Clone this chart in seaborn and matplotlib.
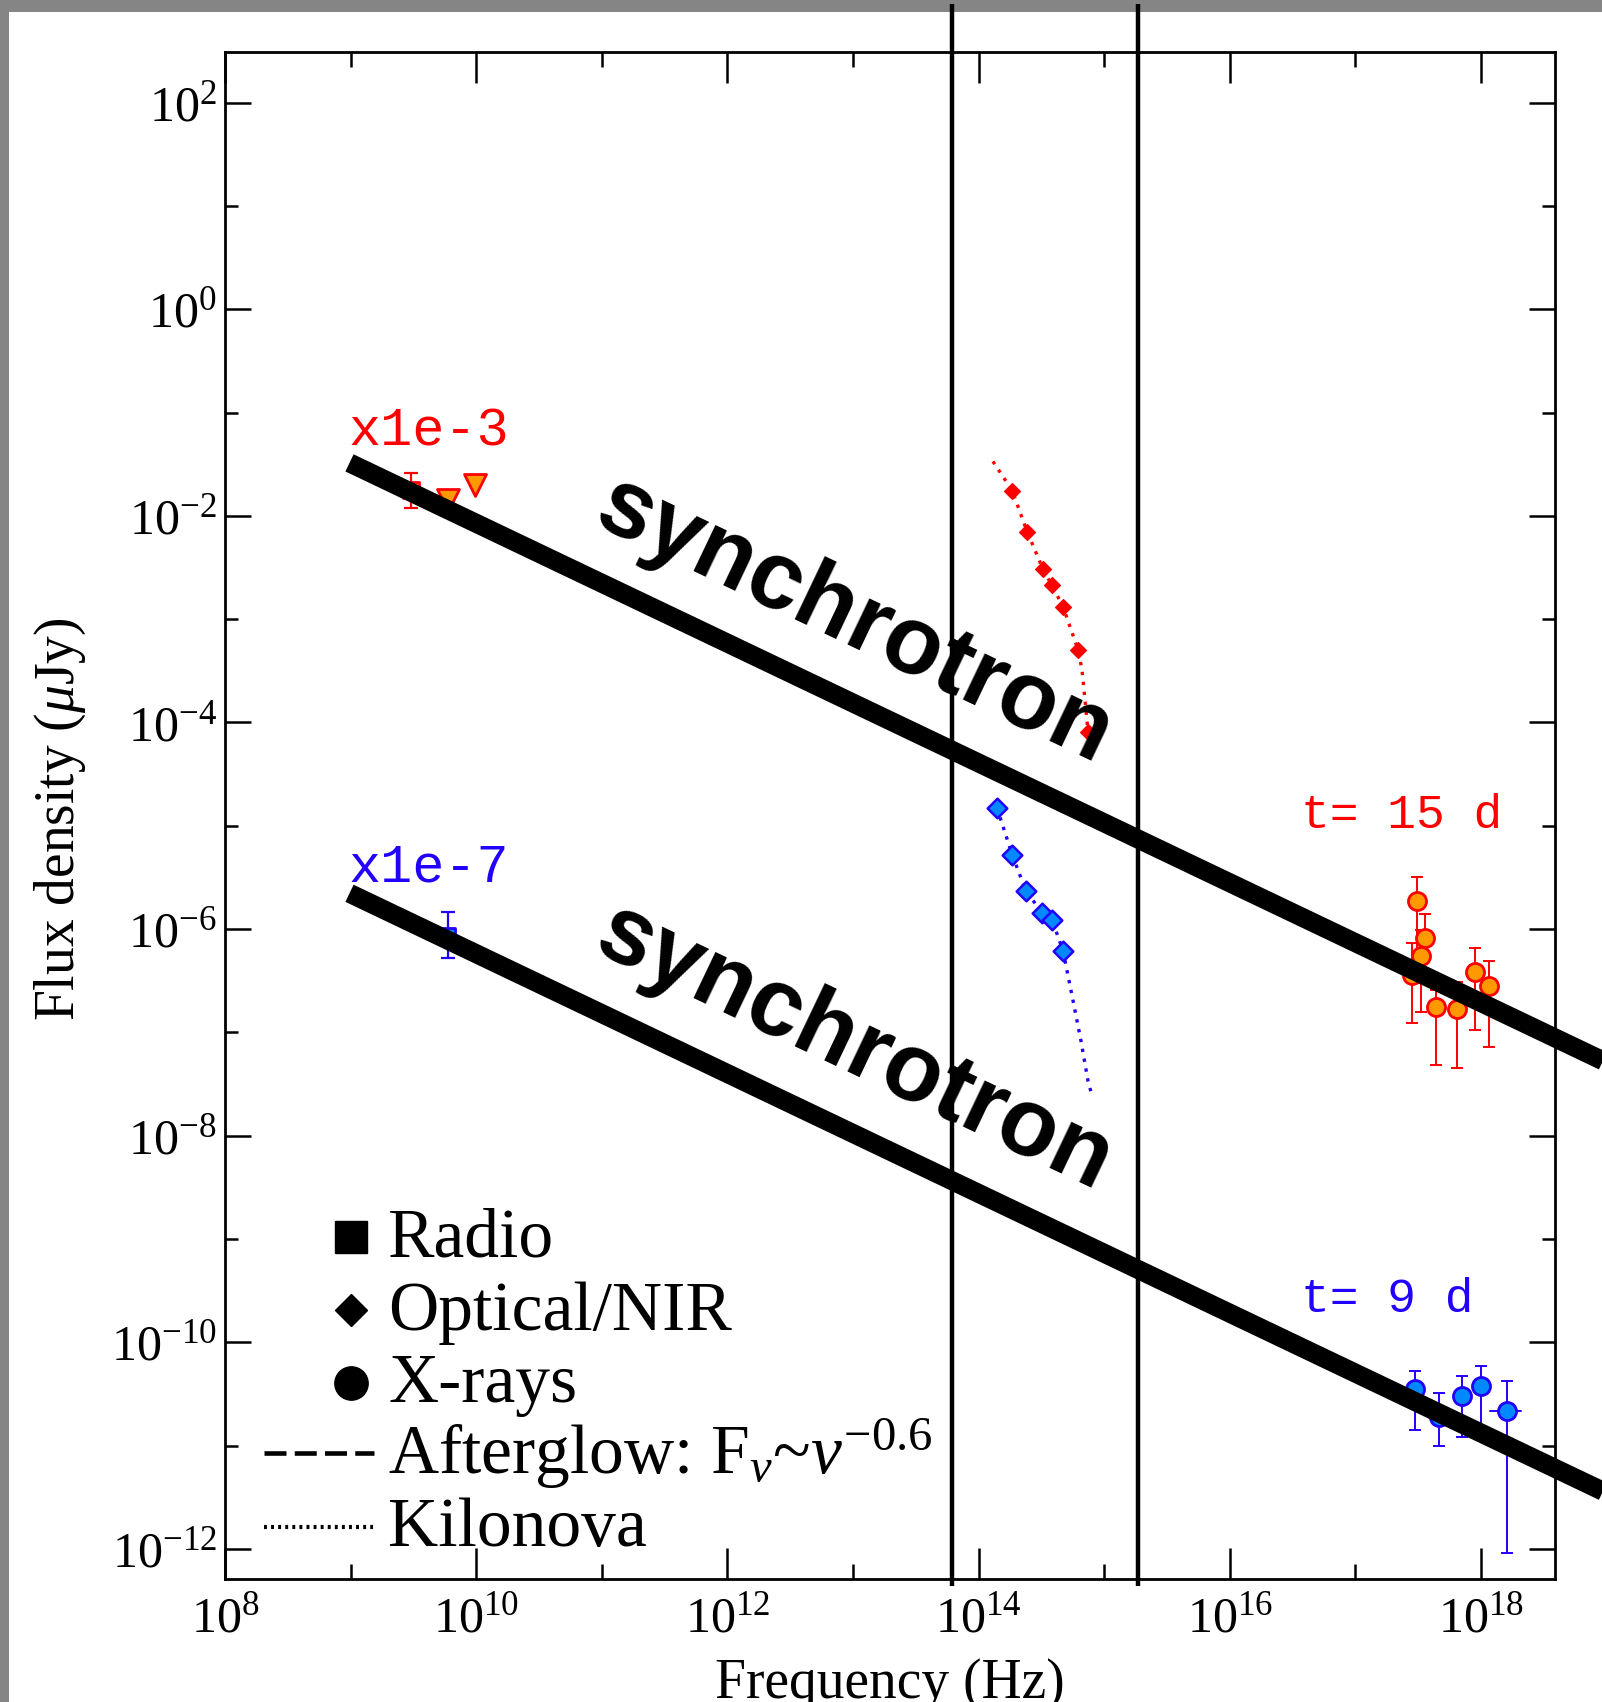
import matplotlib
matplotlib.use("Agg")
import matplotlib.pyplot as plt
import seaborn as sns
from matplotlib.ticker import FixedLocator, FixedFormatter, NullFormatter
from matplotlib.patches import Rectangle

# -----------------------------
# data (Hz, micro Jy x scale)
# -----------------------------
# radio
radio_red_nu = [3.03e9]
radio_red_f = [1.80e-2]
radio_red_lo = [1.20e-2]
radio_red_hi = [2.63e-2]
radio_lim_nu = [5.96e9, 9.77e9]          # upper limits (t=15 d)
radio_lim_f = [1.44e-2, 2.01e-2]
radio_blue_nu = [5.96e9]
radio_blue_f = [8.8e-7]
radio_blue_lo = [5.26e-7]
radio_blue_hi = [1.47e-6]

# optical / NIR
opt_red_nu = [1.85e14, 2.43e14, 3.26e14, 3.84e14, 4.70e14, 6.18e14, 7.43e14]
opt_red_f = [1.76e-2, 7.06e-3, 3.03e-3, 2.12e-3, 1.32e-3, 5.07e-4, 8.15e-5]
opt_blue_nu = [1.40e14, 1.85e14, 2.38e14, 3.20e14, 3.84e14, 4.70e14]
opt_blue_f = [1.49e-5, 5.24e-6, 2.34e-6, 1.44e-6, 1.23e-6, 6.15e-7]

# kilonova model curves
kn_red_nu = [1.30e14, 1.85e14, 2.43e14, 3.26e14, 3.84e14, 4.70e14, 6.18e14, 6.65e14, 6.90e14, 7.43e14]
kn_red_f = [3.37e-2, 1.76e-2, 7.06e-3, 3.03e-3, 2.12e-3, 1.32e-3, 5.07e-4, 3.25e-4, 2.08e-4, 8.15e-5]
kn_blue_nu = [1.40e14, 1.85e14, 2.38e14, 3.20e14, 3.84e14, 4.70e14, 5.55e14, 6.53e14, 7.43e14, 7.85e14]
kn_blue_f = [1.49e-5, 5.24e-6, 2.34e-6, 1.44e-6, 1.23e-6, 6.15e-7, 2.25e-7, 8.26e-8, 3.38e-8, 2.64e-8]

# X-rays
xray_red_nu = [3.09e17, 3.58e17, 3.33e17, 2.82e17, 4.39e17, 6.44e17, 8.95e17, 1.16e18]
xray_red_f = [1.87e-6, 8.22e-7, 5.50e-7, 3.60e-7, 1.76e-7, 1.69e-7, 3.85e-7, 2.82e-7]
xray_red_lo = [5.04e-7, 5.04e-7, 1.58e-7, 1.23e-7, 4.83e-8, 4.52e-8, 1.05e-7, 7.23e-8]
xray_red_hi = [3.21e-6, 1.40e-6, 9.80e-7, 7.35e-7, 2.57e-7, 3.08e-7, 6.58e-7, 4.92e-7]
xray_blue_nu = [2.99e17, 4.63e17, 7.06e17, 1.00e18, 1.61e18]
xray_blue_f = [3.51e-11, 1.87e-11, 3.00e-11, 3.75e-11, 2.15e-11]
xray_blue_lo = [1.40e-11, 1.00e-11, 1.20e-11, 1.40e-11, 9.2e-13]
xray_blue_hi = [5.24e-11, 3.21e-11, 4.69e-11, 5.86e-11, 4.19e-11]
xray_blue_band = [1.18e18, 2.08e18]      # x range of last point

# synchrotron power laws (F ~ nu^-0.58)
sync_nu = [9.8e8, 1.0e19]
sync_red_f = [3.26e-2, 5.1e-8]
sync_blue_f = [2.22e-6, 3.47e-12]

vline_nu = [6.1e13, 1.85e15]

x_major = [1e8, 1e10, 1e12, 1e14, 1e16, 1e18]
x_minor = [1e9, 1e11, 1e13, 1e15, 1e17]
x_labels = [r"$10^{8}$", r"$10^{10}$", r"$10^{12}$", r"$10^{14}$", r"$10^{16}$", r"$10^{18}$"]
y_major = [1e-12, 1e-10, 1e-8, 1e-6, 1e-4, 1e-2, 1e0, 1e2]
y_minor = [1e-11, 1e-9, 1e-7, 1e-5, 1e-3, 1e-1, 1e1]
y_labels = [r"$10^{-12}$", r"$10^{-10}$", r"$10^{-8}$", r"$10^{-6}$", r"$10^{-4}$",
            r"$10^{-2}$", r"$10^{0}$", r"$10^{2}$"]

RED = "#ff0000"
ORANGE = "#ff9900"
BLUE = "#2200ff"
LBLUE = "#0088ff"

# -----------------------------
# style
# -----------------------------
sns.set_theme(style="white", rc={
    "axes.edgecolor": "black", "axes.linewidth": 2.0,
    "xtick.color": "black", "ytick.color": "black",
    "text.color": "black", "axes.labelcolor": "black",
})
plt.rcParams["font.family"] = ["Liberation Serif", "DejaVu Serif"]
plt.rcParams["mathtext.fontset"] = "custom"
plt.rcParams["mathtext.rm"] = "Liberation Serif"
plt.rcParams["mathtext.it"] = "Liberation Serif:italic"
plt.rcParams["mathtext.bf"] = "Liberation Serif:bold"

fig = plt.figure(figsize=(16.02, 17.02), dpi=100)
fig.patch.set_facecolor("#858585")
fig.add_artist(Rectangle((9 / 1602, 0), 1, (1702 - 12) / 1702, transform=fig.transFigure,
                         facecolor="white", edgecolor="none", zorder=-1))
ax = fig.add_axes([0.14045, 0.07227, 0.83021, 0.89718])
ax.set_xscale("log")
ax.set_yscale("log")

# === kilonova curves
sns.lineplot(x=kn_red_nu, y=kn_red_f, sort=False, estimator=None, color=RED,
             lw=2.4, linestyle=(0, (1, 2)), ax=ax, zorder=2)
sns.lineplot(x=kn_blue_nu, y=kn_blue_f, sort=False, estimator=None, color=BLUE,
             lw=2.4, linestyle=(0, (1, 2)), ax=ax, zorder=2)

# === error bars
ax.errorbar(radio_red_nu, radio_red_f,
            yerr=[[f - l for f, l in zip(radio_red_f, radio_red_lo)],
                  [h - f for f, h in zip(radio_red_f, radio_red_hi)]],
            fmt="none", ecolor=RED, elinewidth=1.6, capsize=5, capthick=1.6, zorder=2)
ax.errorbar(radio_blue_nu, radio_blue_f,
            yerr=[[f - l for f, l in zip(radio_blue_f, radio_blue_lo)],
                  [h - f for f, h in zip(radio_blue_f, radio_blue_hi)]],
            fmt="none", ecolor=BLUE, elinewidth=1.6, capsize=5, capthick=1.6, zorder=2)
ax.errorbar(xray_red_nu, xray_red_f,
            yerr=[[f - l for f, l in zip(xray_red_f, xray_red_lo)],
                  [h - f for f, h in zip(xray_red_f, xray_red_hi)]],
            fmt="none", ecolor=RED, elinewidth=1.4, capsize=4.5, capthick=1.4, zorder=2)
ax.errorbar(xray_blue_nu, xray_blue_f,
            yerr=[[f - l for f, l in zip(xray_blue_f, xray_blue_lo)],
                  [h - f for f, h in zip(xray_blue_f, xray_blue_hi)]],
            fmt="none", ecolor=BLUE, elinewidth=1.4, capsize=4.5, capthick=1.4, zorder=2)
ax.plot(xray_blue_band, [xray_blue_f[-1]] * 2, color=BLUE, lw=1.4, zorder=2)

# === markers
sns.scatterplot(x=radio_red_nu, y=radio_red_f, marker="s", s=120, color=ORANGE,
                edgecolor=RED, linewidth=2, ax=ax, zorder=3)
sns.scatterplot(x=radio_lim_nu, y=radio_lim_f, marker="v", s=250, color=ORANGE,
                edgecolor=RED, linewidth=2, ax=ax, zorder=3)
sns.scatterplot(x=radio_blue_nu, y=radio_blue_f, marker="s", s=110, color=LBLUE,
                edgecolor=BLUE, linewidth=2, ax=ax, zorder=3)
sns.scatterplot(x=opt_red_nu, y=opt_red_f, marker="D", s=64, color=RED,
                edgecolor=RED, linewidth=1, ax=ax, zorder=3)
sns.scatterplot(x=opt_blue_nu, y=opt_blue_f, marker="D", s=100, color=LBLUE,
                edgecolor=BLUE, linewidth=1.8, ax=ax, zorder=3)
sns.scatterplot(x=xray_red_nu, y=xray_red_f, marker="o", s=169, color=ORANGE,
                edgecolor=RED, linewidth=2, ax=ax, zorder=3)
sns.scatterplot(x=xray_blue_nu, y=xray_blue_f, marker="o", s=169, color=LBLUE,
                edgecolor=BLUE, linewidth=2, ax=ax, zorder=3)

# === synchrotron power laws and band edges
for f in (sync_red_f, sync_blue_f):
    sns.lineplot(x=sync_nu, y=f, sort=False, estimator=None, color="black", lw=13.7,
                 solid_capstyle="butt", clip_on=False, ax=ax, zorder=5)
ax.vlines(vline_nu, 4.4e-13, 9.0e2, colors="black", lw=3.2, clip_on=False, zorder=4)

ax.set_xlim(1e8, 3.88e18)
ax.set_ylim(5.1e-13, 3.1e2)

# === axes / ticks
ax.xaxis.set_major_locator(FixedLocator(x_major))
ax.xaxis.set_minor_locator(FixedLocator(x_minor))
ax.xaxis.set_major_formatter(FixedFormatter(x_labels))
ax.xaxis.set_minor_formatter(NullFormatter())
ax.yaxis.set_major_locator(FixedLocator(y_major))
ax.yaxis.set_minor_locator(FixedLocator(y_minor))
ax.yaxis.set_major_formatter(FixedFormatter(y_labels))
ax.yaxis.set_minor_formatter(NullFormatter())
ax.tick_params(which="both", direction="in", top=True, bottom=True, left=True, right=True,
               width=1.8, colors="black")
ax.tick_params(axis="x", which="major", length=22, pad=12, labelsize=36)
ax.tick_params(axis="x", which="minor", length=11)
ax.tick_params(axis="y", which="major", length=19, pad=6, labelsize=36)
ax.tick_params(axis="y", which="minor", length=9.6)
for sp in ax.spines.values():
    sp.set_linewidth(2.0)
    sp.set_color("black")

ax.set_xlabel("Frequency (Hz)", fontsize=40)
ax.xaxis.set_label_coords(0.5, -0.052)
ax.set_ylabel(r"Flux density ($\mu$Jy)", fontsize=40, va="center")
ax.yaxis.set_label_coords(-0.1235, 0.4977)

# === annotations
mono = "Liberation Mono"
ax.text(0.093, 0.742, "x1e-3", color=RED, family=mono, fontsize=38.5,
        transform=ax.transAxes, va="baseline")
ax.text(0.093, 0.4571, "x1e-7", color=BLUE, family=mono, fontsize=38.5,
        transform=ax.transAxes, va="baseline")
ax.text(0.809, 0.4918, "t= 15 d", color=RED, family=mono, fontsize=34.5,
        transform=ax.transAxes, va="baseline")
ax.text(0.809, 0.1749, "t= 9 d", color=BLUE, family=mono, fontsize=34.5,
        transform=ax.transAxes, va="baseline")
for yf in (0.627, 0.3475):
    ax.text(0.473, yf, "synchrotron", family=["Liberation Sans", "DejaVu Sans"],
            fontweight="bold", fontsize=69, rotation=-25.5, rotation_mode="anchor",
            ha="center", va="center", transform=ax.transAxes, zorder=6)

# === hand-made legend
leg_x = 0.0944
ax.plot([leg_x], [0.2240], marker="s", ms=23, color="black", transform=ax.transAxes, clip_on=False)
ax.plot([leg_x], [0.1762], marker="D", ms=16, color="black", transform=ax.transAxes, clip_on=False)
ax.plot([leg_x], [0.1284], marker="o", ms=24, color="black", transform=ax.transAxes, clip_on=False)
ax.plot([0.0293, 0.1120], [0.0825, 0.0825], color="black", lw=3.3, linestyle=(0, (4.8, 1.8)),
        transform=ax.transAxes, clip_on=False)
ax.plot([0.0293, 0.1110], [0.0341, 0.0341], color="black", lw=3.0, linestyle=(0, (0.7, 1.0)),
        transform=ax.transAxes, clip_on=False)
leg_texts = ["Radio", "Optical/NIR", "X-rays", r"Afterglow: F$_{\nu}$~$\nu^{-0.6}$", "Kilonova"]
leg_y = [0.2109, 0.1631, 0.1159, 0.0688, 0.0216]
for txt, yf in zip(leg_texts, leg_y):
    ax.text(0.1226, yf, txt, fontsize=50, transform=ax.transAxes, va="baseline")

fig.savefig("out.png", dpi=100, facecolor=fig.get_facecolor())
